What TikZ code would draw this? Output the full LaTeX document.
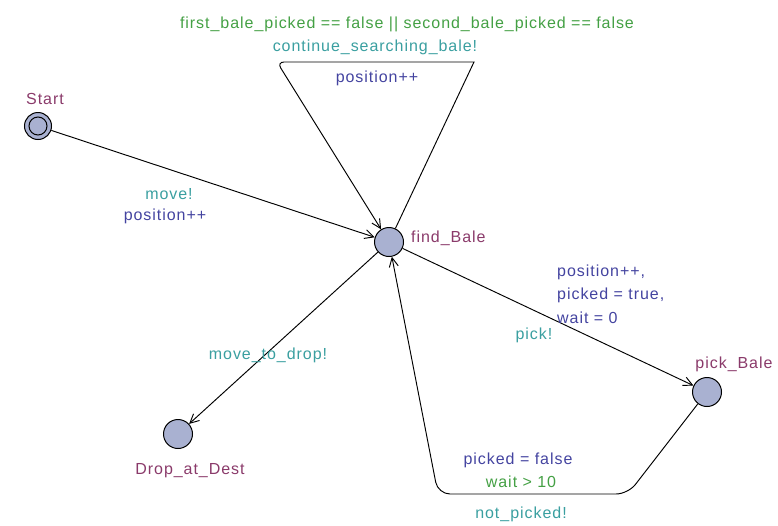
\documentclass[tikz,border=0pt]{standalone}
\usepackage{fontspec}
\setmainfont{Liberation Sans}[LetterSpace=6]
\usetikzlibrary{arrows.meta}
\definecolor{locname}{HTML}{8A3A6A}
\definecolor{syncclr}{HTML}{3A9FA0}
\definecolor{updclr}{HTML}{4444A0}
\definecolor{guardclr}{HTML}{44A044}
\definecolor{locfill}{HTML}{A9B1D1}

\begin{document}
\begin{tikzpicture}[x=1pt,y=-1pt,
	    loc/.style={draw,line width=1pt,circle,fill=locfill,minimum size=29pt,inner sep=0pt},
	    lbl/.style={inner sep=0pt,font=\fontsize{16}{19}\selectfont},
	    edge/.style={line width=0.95pt,-{Straight Barb[length=9pt,width=9pt]}}]
	    \useasboundingbox (0,0) rectangle (778,525);
	    \node[loc,minimum size=27pt] (start) at (38,126) {};
	    \draw[line width=1pt] (start.center) circle (9pt);
	    \node[loc] (find) at (389,242) {};
	    \node[loc] (pick) at (707,392) {};
	    \node[loc] (drop) at (178,434) {};
	    \node[lbl,locname] (startname) at (45,99) {Start};
	    \node[lbl,locname,anchor=west] (findname) at (411,238) {find\_Bale};
	    \node[lbl,locname] (pickname) at (734,364) {pick\_Bale};
	    \node[lbl,locname] (dropname) at (190,471) {Drop\_at\_Dest};
	    \coordinate (loopr) at (474,62);
	    \coordinate (loopl) at (277,62);
	    \coordinate (backa) at (628,494);
	    \coordinate (backb) at (438,494);
	    \draw[edge] (start) -- (find);
	    \draw[edge] (find) -- (loopr) [rounded corners=7pt] -- (loopl) -- (find);
	    \draw[edge] (find) -- (pick);
	    \draw[edge,rounded corners=12pt] (pick) -- (backa) -- (backb) -- (find);
	    \draw[edge] (find) -- (drop);
	    \node[lbl,syncclr] (movesync) at (169,194) {move!};
	    \node[lbl,updclr] (moveupd) at (165,216) {position++};
	    \node[lbl,guardclr] (loopguard) at (407,24) {first\_bale\_picked == false || second\_bale\_picked == false};
	    \node[lbl,syncclr] (loopsync) at (375,47) {continue\_searching\_bale!};
	    \node[lbl,updclr] (loopupd) at (377,78) {position++};
	    \node[lbl,updclr,anchor=west,align=left,font=\fontsize{16}{23.5}\selectfont] (pickupd) at (557,294) {position++,\\picked = true,\\wait = 0};
	    \node[lbl,syncclr] (picksync) at (534,335) {pick!};
	    \node[lbl,updclr] (backupd) at (518,460) {picked = false};
	    \node[lbl,guardclr] (backguard) at (521,482) {wait > 10};
	    \node[lbl,syncclr] (backsync) at (521,514) {not\_picked!};
	    \node[lbl,syncclr] (dropsync) at (268,355) {move\_to\_drop!};
	\end{tikzpicture}
\end{document}
